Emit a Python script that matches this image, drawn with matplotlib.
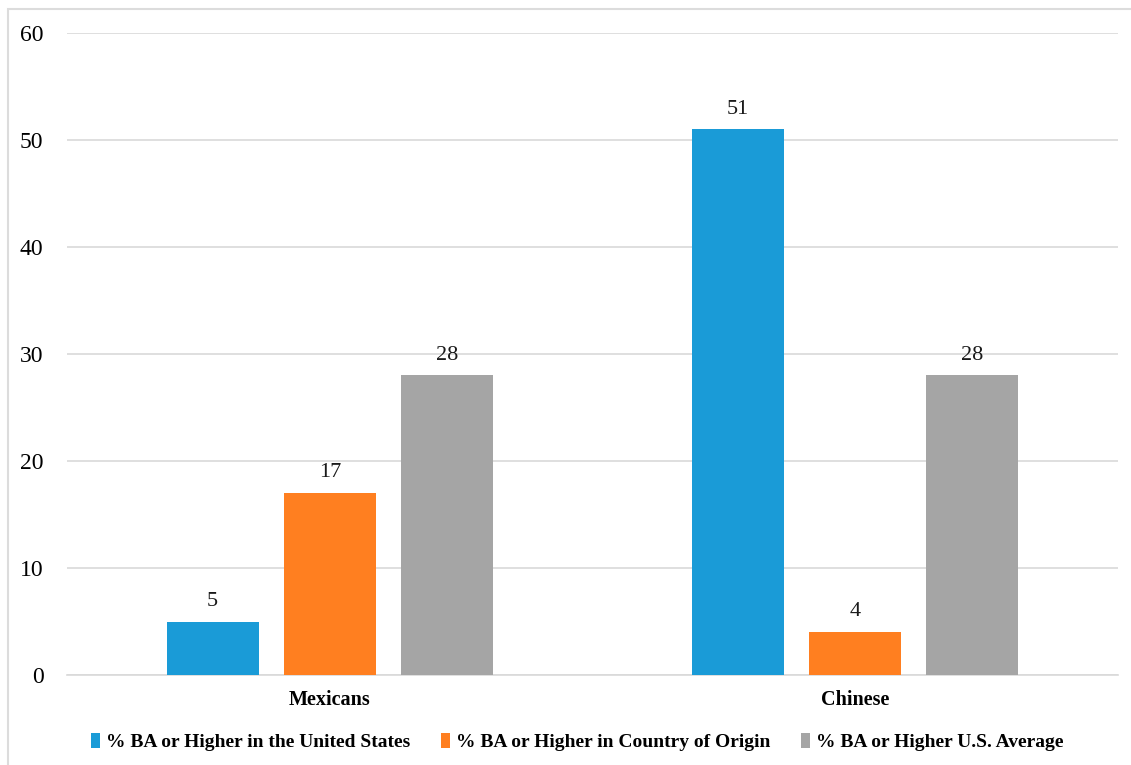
import matplotlib
matplotlib.use("Agg")
import matplotlib.pyplot as plt
import numpy as np
from matplotlib.patches import Rectangle

categories = ["Mexicans", "Chinese"]
series_names = ["% BA or Higher in the United States",
                "% BA or Higher in Country of Origin",
                "% BA or Higher U.S. Average"]
us_values = [5, 51]
origin_values = [17, 4]
avg_values = [28, 28]
yticks = [0, 10, 20, 30, 40, 50, 60]

colors = ["#1A9BD7", "#FF7F20", "#A5A5A5"]

plt.rcParams['font.family'] = ['Liberation Serif', 'DejaVu Serif']

fig = plt.figure(figsize=(11.31, 7.65), dpi=100)
ax = fig.add_axes([67/1131, 1-675/765, (1118-67)/1131, (675-33)/765])

x = np.arange(len(categories))
width = 0.175
step = 0.2227
all_series = [us_values, origin_values, avg_values]
for i, (vals, name, c) in enumerate(zip(all_series, series_names, colors)):
    bars = ax.bar(x + (i-1)*step, vals, width, color=c, label=name, zorder=3)
    for b, v in zip(bars, vals):
        ax.text(b.get_x()+b.get_width()/2, v + 1.0, f"{v}", ha='center', va='bottom',
                fontsize=16, color='#1a1a1a')

ax.set_xlim(-0.5, 1.5)
ax.set_ylim(0, 60)
ax.set_yticks(yticks)
ax.set_yticklabels([str(t) for t in yticks], fontsize=17)
ax.yaxis.grid(True, color='#D9D9D9', linewidth=1.2, zorder=0)
ax.set_xticks(x)
ax.set_xticklabels(categories, fontsize=14.5, fontweight='bold')
ax.tick_params(axis='both', length=0)
ax.tick_params(axis='y', pad=17)
ax.tick_params(axis='x', pad=11)
for s in ['top', 'right', 'left']:
    ax.spines[s].set_visible(False)
ax.spines['bottom'].set_color('#D9D9D9')
ax.spines['bottom'].set_linewidth(1.2)

leg = fig.legend(loc='center', bbox_to_anchor=(0.5106, 1-742/765), ncol=3, frameon=False,
                 prop={'size': 14, 'weight': 'bold'}, handlelength=0.45, handleheight=0.8,
                 handletextpad=0.3, columnspacing=1.6)

fig.patches.append(Rectangle((8/1131, -0.1), 1.2, 1-9/765+0.1, transform=fig.transFigure,
                             fill=False, edgecolor='#DCDCDC', linewidth=1.5))

fig.savefig("out.png", dpi=100)
